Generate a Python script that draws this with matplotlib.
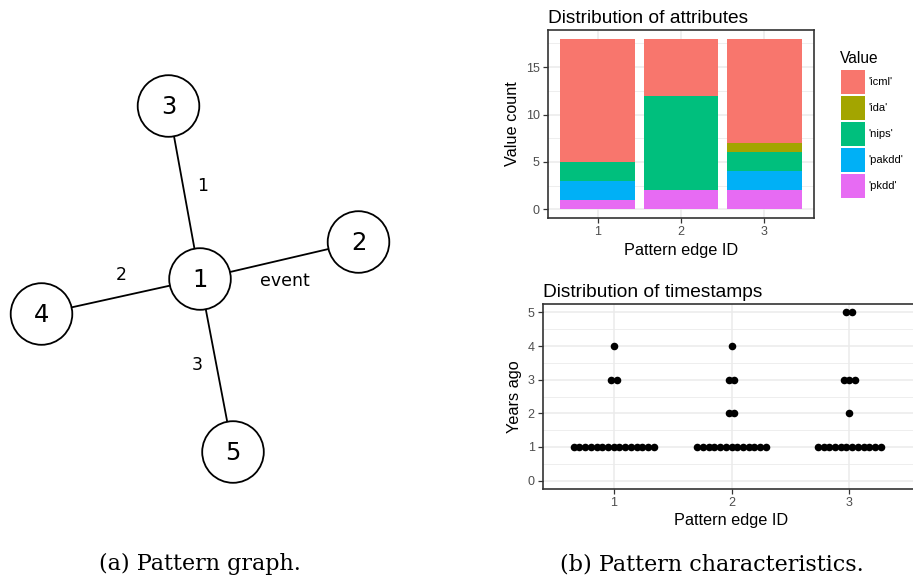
import numpy as np
import matplotlib.pyplot as plt
from matplotlib.patches import Circle, Rectangle

# pattern graph
nodes = [1, 2, 3, 4, 5]
edges = [(1, 3), (1, 4), (1, 5), (1, 2)]
edge_labels = ['1', '2', '3', 'event']

# attribute counts per pattern edge
edge_ids = [1, 2, 3]
values = ["'icml'", "'ida'", "'nips'", "'pakdd'", "'pkdd'"]
counts = {
    "'icml'":  [13, 6, 11],
    "'ida'":   [0, 0, 1],
    "'nips'":  [2, 10, 2],
    "'pakdd'": [2, 0, 2],
    "'pkdd'":  [1, 2, 2],
}
value_colors = ['#F8766D', '#A3A500', '#00BF7D', '#00B0F6', '#E76BF3']

# timestamps (years ago) per pattern edge
years_edge1 = [1] * 15 + [3, 3, 4]
years_edge2 = [1] * 13 + [2, 2, 3, 3, 4]
years_edge3 = [1] * 12 + [2, 3, 3, 3, 5, 5]
years = [years_edge1, years_edge2, years_edge3]

W, H = 913, 580
fig = plt.figure(figsize=(W / 100, H / 100), dpi=100)
plt.rcParams['font.family'] = ['Liberation Sans', 'DejaVu Sans']


def box(left, top, right, bottom):
    return [left / W, (H - bottom) / H, (right - left) / W, (bottom - top) / H]


# ---- (a) graph, drawn in pixel coordinates
ax_g = fig.add_axes([0, 0, 1, 1], zorder=0)
ax_g.set_xlim(0, W)
ax_g.set_ylim(H, 0)
ax_g.axis('off')

pos = {1: (200, 279), 2: (358.5, 242), 3: (168.5, 106), 4: (41.5, 314), 5: (233, 452)}
label_pos = {'1': (203, 186), '2': (121, 275), '3': (197, 365), 'event': (285, 281)}
r = 30.8
for (a, b), lab in zip(edges, edge_labels):
    ax_g.plot([pos[a][0], pos[b][0]], [pos[a][1], pos[b][1]], color='black', lw=1.3, zorder=1)
    ax_g.text(*label_pos[lab], lab, ha='center', va='center', fontsize=12.5,
              family='DejaVu Sans')
for n in nodes:
    ax_g.add_patch(Circle(pos[n], r, facecolor='white', edgecolor='black', lw=1.3, zorder=2))
    ax_g.text(pos[n][0], pos[n][1] + 1, str(n), ha='center', va='center', fontsize=17.5,
              family='DejaVu Sans', zorder=3)

ax_g.text(200, 570, '(a) Pattern graph.', ha='center', va='baseline', fontsize=16,
          family='DejaVu Serif')
ax_g.text(712, 570, '(b) Pattern characteristics.', ha='center', va='baseline', fontsize=16,
          family='DejaVu Serif')


def bw_theme(ax, minor_step):
    ax.set_facecolor('white')
    for s in ax.spines.values():
        s.set_color('#333333')
        s.set_linewidth(1.2)
    ax.yaxis.set_minor_locator(plt.MultipleLocator(minor_step))
    ax.grid(True, which='major', color='#EBEBEB', lw=1.1)
    ax.grid(True, which='minor', axis='y', color='#EBEBEB', lw=0.6)
    ax.set_axisbelow(True)
    ax.tick_params(which='major', length=3.5, width=0.9, color='#333333',
                   labelcolor='#4D4D4D', labelsize=9, pad=2.5)
    ax.tick_params(which='minor', length=0)


# ---- (b) top: stacked bars
ax1 = fig.add_axes(box(548, 30, 814, 218))
bottom = np.zeros(len(edge_ids))
for v, c in reversed(list(zip(values, value_colors))):
    ax1.bar(edge_ids, counts[v], width=0.9, bottom=bottom, color=c, lw=0)
    bottom += np.array(counts[v])
ax1.set_xlim(0.4, 3.6)
ax1.set_ylim(-0.9, 18.9)
ax1.set_xticks(edge_ids)
ax1.set_yticks([0, 5, 10, 15])
bw_theme(ax1, 2.5)
ax1.set_title('Distribution of attributes', loc='left', fontsize=13.8, pad=5, x=0.0)
ax1.set_xlabel('Pattern edge ID', fontsize=11.7, labelpad=3)
ax1.set_ylabel('Value count', fontsize=11.7, labelpad=4)

# legend keys
fig.text(840 / W, 1 - 63 / H, 'Value', fontsize=11.2, va='baseline')
for i, (v, c) in enumerate(zip(values, value_colors)):
    top = 70 + i * 26
    fig.patches.append(Rectangle((841 / W, 1 - (top + 24) / H), 24 / W, 24 / H,
                                 transform=fig.transFigure, color=c, lw=0))
    fig.text(868 / W, 1 - (top + 12) / H, v, fontsize=8, va='center')

# ---- (b) bottom: centred dot stacks
ax2 = fig.add_axes(box(543, 304, 920, 489))
dot_px = 5.7
dx = dot_px / 117.5
for x0, ys in zip(edge_ids, years):
    for y in sorted(set(ys)):
        n = ys.count(y)
        xs = x0 + (np.arange(n) - (n - 1) / 2) * dx
        ax2.scatter(xs, [y] * n, s=(7.6 * 0.72) ** 2, color='black', lw=0, zorder=3)
ax2.set_xlim(0.4, 3.6)
ax2.set_ylim(-0.25, 5.25)
ax2.set_xticks(edge_ids)
ax2.set_yticks(range(6))
bw_theme(ax2, 0.5)
ax2.set_title('Distribution of timestamps', loc='left', fontsize=13.8, pad=5)
ax2.set_xlabel('Pattern edge ID', fontsize=11.7, labelpad=3)
ax2.set_ylabel('Years ago', fontsize=11.7, labelpad=4)

fig.savefig('out.png', dpi=100)
